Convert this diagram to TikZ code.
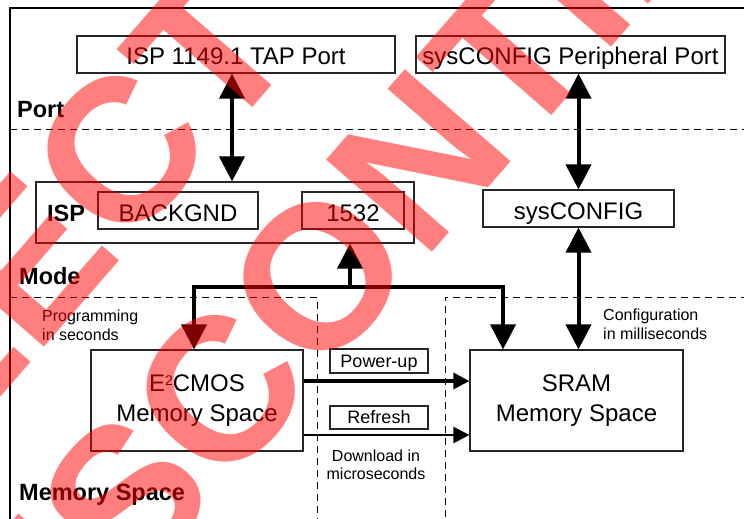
\documentclass[tikz,border=0pt]{standalone}
\usepackage{fontspec}
\setmainfont{Liberation Sans}
\usetikzlibrary{arrows.meta}

\begin{document}
\begin{tikzpicture}[
	x=1pt,
	y=-1pt,
	>={Triangle[length=25pt,width=25pt]},
	box/.style={draw=black!85, line width=1.2pt, inner sep=0pt,
		font=\fontsize{24}{30}\selectfont, align=center},
	one/.style={box, text height=21pt, text depth=0pt},
	tag/.style={draw=black!85, line width=1.2pt, inner sep=0pt,
		font=\fontsize{18}{18}\selectfont, text height=12pt, text depth=0pt},
	zone/.style={font=\fontsize{23.5}{23.5}\selectfont\bfseries,
		inner sep=0pt, anchor=base west},
	note/.style={font=\fontsize{16}{18.5}\selectfont, inner sep=0pt},
	sep/.style={line width=1pt, dash pattern=on 7pt off 5pt},
	bus/.style={line width=4pt, ->},
	bus2/.style={line width=4pt, <->},
	feed/.style={-{Triangle[length=16pt,width=16pt]}},
	stamp/.style={font=\fontsize{204}{204}\selectfont\bfseries, text=red,
		text opacity=0.5, inner sep=0pt, anchor=base west, rotate=49}] {

\useasboundingbox (0,0) rectangle (744,519);

% frame and zone separators
\draw[line width=1.5pt] (10,540) -- (10,8) -- (760,8);
\draw[sep] (10,129) -- (760,129);
\draw[sep] (10,297) -- (317,297) -- (317,540);
\draw[sep] (760,297) -- (445,297) -- (445,540);

% zone names
\node[zone] (port) at (17,117) {Port};
\node[zone] (mode) at (19,284) {Mode};
\node[zone] (mem) at (19,500) {Memory Space};

% port row
\node[one, minimum width=318pt, minimum height=37pt] (tap) at (236,54.5)
	{ISP 1149.1 TAP Port};
\node[one, minimum width=309pt, minimum height=37pt] (periph) at (570.5,54.5)
	{sysCONFIG Peripheral Port};

% mode row
\node[box, minimum width=378pt, minimum height=61pt] (isp) at (225,212.5) {};
\node[zone] (isplbl) at (47,221) {ISP};
\node[one, minimum width=160pt, minimum height=37pt] (backgnd) at (178,210.5)
	{BACKGND};
\node[one, minimum width=102pt, minimum height=37pt] (core) at (353,210.5)
	{1532};
\node[one, minimum width=191pt, minimum height=37pt] (syscfg) at (578.5,208.5)
	{sysCONFIG};

% memory row
\node[box, minimum width=212pt, minimum height=101pt] (eecmos) at (197,400.5)
	{E\raisebox{6pt}{\fontsize{14}{14}\selectfont 2}CMOS\\Memory Space};
\node[box, minimum width=213pt, minimum height=101pt] (sram) at (576.5,400.5)
	{SRAM\\Memory Space};
\node[tag, minimum width=98pt, minimum height=24pt] (powerup) at (379,361)
	{Power-up};
\node[tag, minimum width=98pt, minimum height=23pt] (refresh) at (379,417.5)
	{Refresh};

% notes
\node[note, align=left, anchor=north west] (prog) at (42,310)
	{Programming\\in seconds};
\node[note, align=left, anchor=north west] (cfg) at (603,309)
	{Configuration\\in milliseconds};
\node[note, align=center, anchor=north, font=\fontsize{16}{17.5}\selectfont]
	(dl) at (376,450) {Download in\\microseconds};

% links
\draw[bus2] ([xshift=-4pt]tap.south) -- ([xshift=-4pt]tap.south |- isp.north);
\draw[bus2] (syscfg.north |- periph.south) -- (syscfg.north);
\draw[bus2] (syscfg.south) -- (syscfg.south |- sram.north);

\coordinate (split) at (350,287);
\draw[bus] (split) -- (split |- isp.south);
\draw[bus] (split) -| ([xshift=-3pt]eecmos.north);
\draw[bus] (split) -| ([xshift=-73.5pt]sram.north);

\draw[feed, line width=3.3pt] ([yshift=19.5pt]eecmos.east)
	-- ([yshift=19.5pt]eecmos.east -| sram.west);
\draw[feed, line width=2.3pt] ([yshift=-34.5pt]eecmos.east)
	-- ([yshift=-34.5pt]eecmos.east -| sram.west);

% stamp over the page
\begin{scope}
\clip (0,0) rectangle (744,519);
\node[stamp] (select) at (-225,657) {SELECT DEVICES};
\node[stamp] (discont) at (0,750) {DISCONTINUED};
\end{scope}
}\end{tikzpicture}
\end{document}
